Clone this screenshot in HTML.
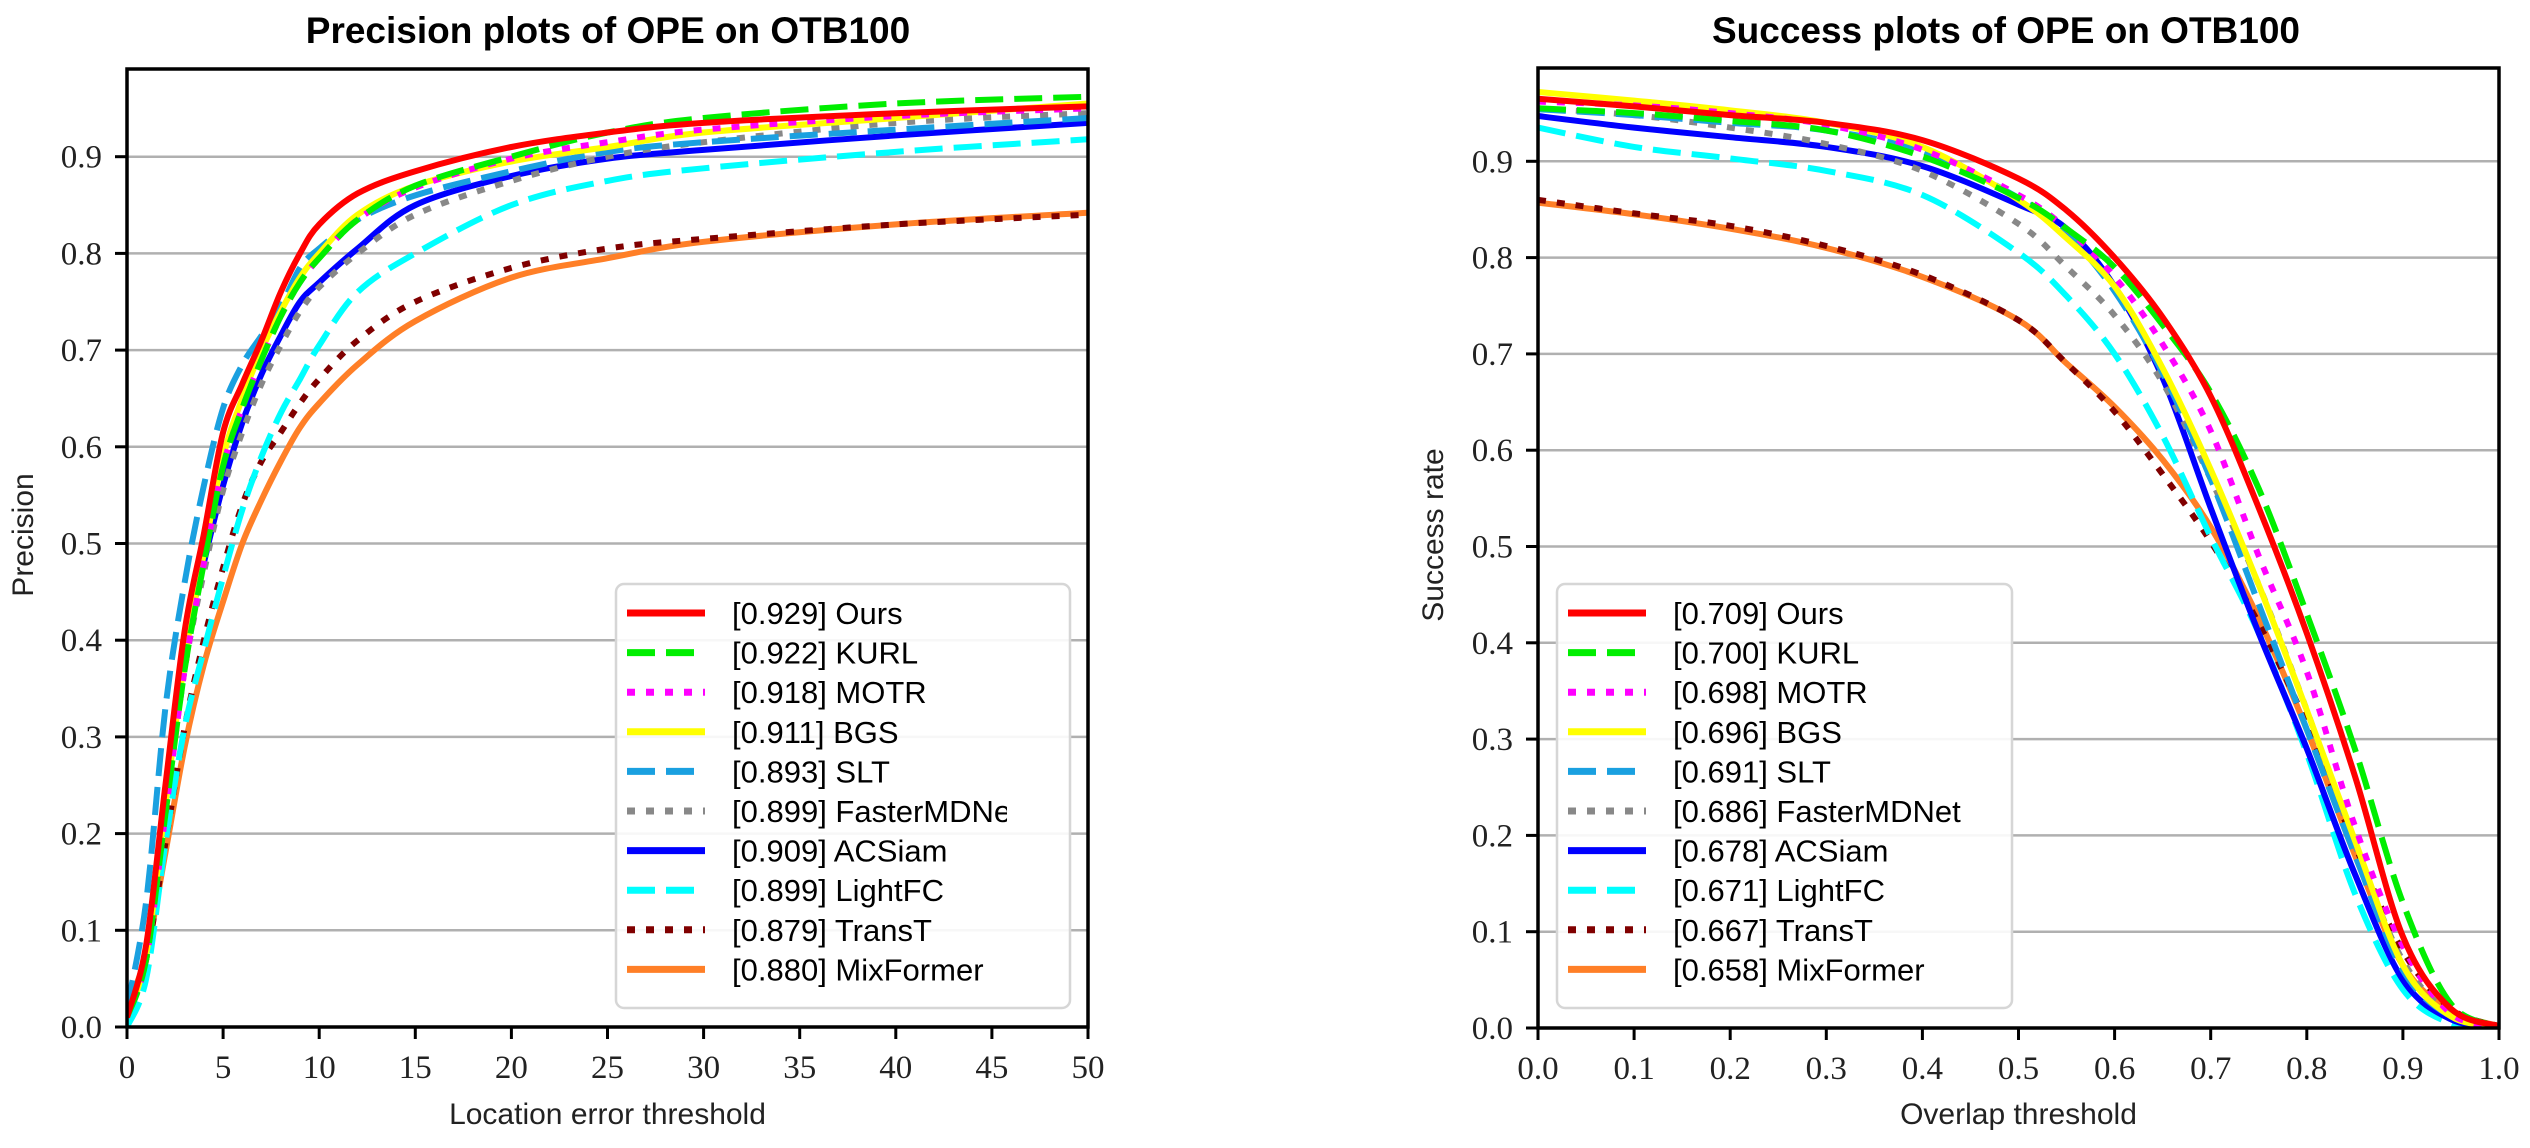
<!DOCTYPE html>
<html><head><meta charset="utf-8"><style>
html,body{margin:0;padding:0;background:#fff;width:2530px;height:1148px;overflow:hidden}
svg{display:block}
.tick{font-family:"Liberation Serif",serif;font-size:33px;fill:#222}
.ttl{font-family:"Liberation Sans",sans-serif;font-size:37px;font-weight:bold;fill:#000}
.lab{font-family:"Liberation Sans",sans-serif;font-size:30px;fill:#222}
.leg{font-family:"Liberation Sans",sans-serif;font-size:31px;fill:#000}
</style></head><body>
<svg id="fig" width="2530" height="1148" viewBox="0 0 2530 1148" xmlns="http://www.w3.org/2000/svg">
<defs><clipPath id="legclipL"><rect x="600" y="570" width="407" height="450"/></clipPath></defs>
</svg>
<script>
const names=["Ours","KURL","MOTR","BGS","SLT","FasterMDNet","ACSiam","LightFC","TransT","MixFormer"];
const precScores=["0.929","0.922","0.918","0.911","0.893","0.899","0.909","0.899","0.879","0.880"];
const succScores=["0.709","0.700","0.698","0.696","0.691","0.686","0.678","0.671","0.667","0.658"];
const colors=["#ff0000","#00ee00","#ff00ff","#ffff00","#1aa0e0","#888888","#0000ff","#00ffff","#800000","#ff7f27"];
const styles=["solid","dash","dot","solid","dash","dot","solid","dash","dot","solid"];
const precX=[0,1,2,3,4,5,6,7,8,9,10,12,15,20,25,30,40,50];
const precOurs=[0.01,0.085,0.25,0.41,0.51,0.615,0.665,0.71,0.76,0.80,0.83,0.862,0.885,0.91,0.925,0.935,0.945,0.952];
const precKURL=[0.01,0.07,0.22,0.37,0.48,0.58,0.64,0.69,0.735,0.77,0.795,0.835,0.87,0.90,0.925,0.94,0.955,0.962];
const precMOTR=[0.01,0.07,0.22,0.37,0.48,0.58,0.64,0.69,0.735,0.77,0.795,0.835,0.868,0.898,0.915,0.928,0.942,0.95];
const precBGS=[0.01,0.075,0.23,0.38,0.49,0.59,0.65,0.70,0.74,0.775,0.80,0.84,0.87,0.895,0.91,0.925,0.94,0.955];
const precSLT=[0.02,0.13,0.33,0.46,0.56,0.64,0.685,0.715,0.745,0.785,0.805,0.835,0.86,0.885,0.905,0.915,0.928,0.94];
const precFMD=[0.01,0.07,0.22,0.37,0.47,0.555,0.615,0.665,0.705,0.74,0.765,0.80,0.84,0.875,0.90,0.915,0.935,0.945];
const precACS=[0.01,0.08,0.24,0.39,0.48,0.56,0.625,0.675,0.715,0.75,0.77,0.805,0.85,0.88,0.898,0.907,0.922,0.935];
const precLFC=[0.0,0.05,0.19,0.31,0.39,0.465,0.535,0.59,0.635,0.67,0.705,0.76,0.80,0.85,0.875,0.888,0.905,0.918];
const precTT=[0.01,0.07,0.19,0.31,0.40,0.475,0.54,0.585,0.615,0.645,0.67,0.71,0.75,0.785,0.805,0.815,0.83,0.84];
const precMF=[0.02,0.075,0.18,0.29,0.375,0.44,0.50,0.545,0.585,0.62,0.645,0.685,0.73,0.775,0.795,0.812,0.83,0.842];
const succX=[0,0.1,0.2,0.3,0.4,0.5,0.55,0.6,0.65,0.7,0.75,0.8,0.85,0.9,0.95,1.0];
const succOurs=[0.965,0.957,0.948,0.940,0.922,0.882,0.849,0.80,0.738,0.656,0.54,0.41,0.262,0.095,0.02,0.002];
const succKURL=[0.955,0.950,0.942,0.932,0.905,0.862,0.83,0.79,0.73,0.66,0.56,0.43,0.29,0.13,0.025,0.002];
const succMOTR=[0.962,0.958,0.95,0.938,0.912,0.865,0.83,0.78,0.71,0.62,0.49,0.37,0.21,0.085,0.015,0.002];
const succBGS=[0.972,0.963,0.953,0.94,0.915,0.86,0.82,0.77,0.685,0.58,0.46,0.33,0.195,0.065,0.012,0.002];
const succSLT=[0.954,0.948,0.94,0.932,0.91,0.862,0.825,0.765,0.68,0.57,0.44,0.31,0.18,0.06,0.012,0.002];
const succFMD=[0.955,0.948,0.935,0.918,0.89,0.835,0.79,0.74,0.67,0.57,0.46,0.33,0.19,0.07,0.015,0.002];
const succACS=[0.947,0.935,0.925,0.915,0.895,0.855,0.83,0.77,0.675,0.54,0.41,0.29,0.16,0.05,0.009,0.001];
const succLFC=[0.935,0.915,0.903,0.89,0.865,0.805,0.76,0.70,0.615,0.51,0.41,0.285,0.14,0.04,0.005,0.001];
const succTT=[0.86,0.846,0.833,0.812,0.782,0.735,0.69,0.64,0.575,0.505,0.42,0.315,0.19,0.08,0.02,0.002];
const succMF=[0.857,0.845,0.83,0.81,0.78,0.735,0.69,0.645,0.59,0.52,0.425,0.31,0.18,0.065,0.018,0.002];
const precSeries=[precOurs,precKURL,precMOTR,precBGS,precSLT,precFMD,precACS,precLFC,precTT,precMF];
const succSeries=[succOurs,succKURL,succMOTR,succBGS,succSLT,succFMD,succACS,succLFC,succTT,succMF];
const precTicks=[0,5,10,15,20,25,30,35,40,45,50];
const succTicks=[0,0.1,0.2,0.3,0.4,0.5,0.6,0.7,0.8,0.9,1.0];
const yTicks=[0,0.1,0.2,0.3,0.4,0.5,0.6,0.7,0.8,0.9];

const NS="http://www.w3.org/2000/svg";
const svg=document.getElementById('fig');
function mk(tag,attrs,parent){const e=document.createElementNS(NS,tag);for(const k in attrs)e.setAttribute(k,attrs[k]);(parent||svg).appendChild(e);return e;}
function dashFor(s){return s==="dash"?"28 11":(s==="dot"?"8 11":"none");}
function pathFrom(pts){let d="M"+pts[0][0].toFixed(1)+","+pts[0][1].toFixed(1);
 for(let i=0;i<pts.length-1;i++){const p0=pts[Math.max(0,i-1)],p1=pts[i],p2=pts[i+1],p3=pts[Math.min(pts.length-1,i+2)];
 const c1=[p1[0]+(p2[0]-p0[0])/6,p1[1]+(p2[1]-p0[1])/6],c2=[p2[0]-(p3[0]-p1[0])/6,p2[1]-(p3[1]-p1[1])/6];
 d+=" C"+c1[0].toFixed(1)+","+c1[1].toFixed(1)+" "+c2[0].toFixed(1)+","+c2[1].toFixed(1)+" "+p2[0].toFixed(1)+","+p2[1].toFixed(1);}
 return d;}

function panel(cfg){
 const g=mk('g',{});
 
 
 const X=v=>cfg.x0+(v-cfg.xmin)/(cfg.xmax-cfg.xmin)*(cfg.x1-cfg.x0);
 const Y=v=>cfg.y0-v*cfg.ystep*10;
 yTicks.forEach(t=>{ if(t>0){const l=mk('line',{x1:cfg.x0,x2:cfg.x1,y1:Y(t),y2:Y(t),stroke:'#b0b0b0','stroke-width':2.5},g);
  
  }
  const tk=mk('line',{x1:cfg.x0-12,x2:cfg.x0,y1:Y(t),y2:Y(t),stroke:'#000','stroke-width':3},g);
  
  
  const tx=mk('text',{x:cfg.x0-25,y:Y(t)+11,'text-anchor':'end',class:'tick'},g);tx.textContent=t.toFixed(1);
  
  
 });
 cfg.xticks.forEach(t=>{
  const tk=mk('line',{x1:X(t),x2:X(t),y1:cfg.y0,y2:cfg.y0+12,stroke:'#000','stroke-width':3},g);
  
  
  const tx=mk('text',{x:X(t),y:cfg.y0+51,'text-anchor':'middle',class:'tick'},g);tx.textContent=cfg.fmt(t);
  
  
 });
 const cl=mk('clipPath',{id:cfg.id+'clip'},g);mk('rect',{x:cfg.x0,y:cfg.top,width:cfg.x1-cfg.x0,height:cfg.y0-cfg.top},cl);
 const lines=mk('g',{'clip-path':'url(#'+cfg.id+'clip)'},g);
 for(let i=names.length-1;i>=0;i--){
  const pts=cfg.xs.map((x,j)=>[X(x),Y(cfg.series[i][j])]);
  const p=mk('path',{d:pathFrom(pts),fill:'none',stroke:colors[i],'stroke-width':6,'stroke-dasharray':dashFor(styles[i]),'stroke-linejoin':'round'},lines);
  
  
 }
 const fr=mk('rect',{x:cfg.x0,y:cfg.top,width:cfg.x1-cfg.x0,height:cfg.y0-cfg.top,fill:'none',stroke:'#000','stroke-width':3.5},g);
 
 
 const tt=mk('text',{x:cfg.tx,y:43,'text-anchor':'middle',class:'ttl'},g);tt.textContent=cfg.title;
 
 
 const xl=mk('text',{x:(cfg.x0+cfg.x1)/2,y:1124,'text-anchor':'middle',class:'lab'},g);xl.textContent=cfg.xlabel;
 
 
 const yl=mk('text',{x:0,y:0,'text-anchor':'middle',class:'lab',transform:'translate('+cfg.ylx+',535) rotate(-90)'},g);yl.textContent=cfg.ylabel;
 
 
 const lg=mk('g',{},g);
 
 
 mk('rect',{x:cfg.lx,y:584,width:cfg.lw,height:424,rx:8,fill:'#fff','fill-opacity':0.9,stroke:'#d6d6d6','stroke-width':2.5},lg);
 const tg=mk('g',cfg.clip?{'clip-path':'url(#'+cfg.clip+')'}:{},lg);
 names.forEach((n,i)=>{
  const yy=613+i*39.6;
  const ln=mk('line',{x1:cfg.lx+11,x2:cfg.lx+89,y1:yy,y2:yy,stroke:colors[i],'stroke-width':7,'stroke-dasharray':dashFor(styles[i])},lg);
  
  
  const t=mk('text',{x:cfg.lx+116,y:yy+11,class:'leg'},tg);t.textContent='['+cfg.scores[i]+'] '+n;
  
  
 });
}
panel({id:'prec',x0:127,x1:1088,xmin:0,xmax:50,y0:1027,ystep:96.7,top:69,xs:precX,series:precSeries,xticks:precTicks,fmt:t=>String(t),
 title:'Precision plots of OPE on OTB100',tx:608,xlabel:'Location error threshold',ylabel:'Precision',ylx:33,lx:616,lw:454,scores:precScores,clip:'legclipL'});
panel({id:'succ',x0:1538,x1:2499,xmin:0,xmax:1,y0:1028,ystep:96.3,top:68,xs:succX,series:succSeries,xticks:succTicks,fmt:t=>t.toFixed(1),
 title:'Success plots of OPE on OTB100',tx:2006,xlabel:'Overlap threshold',ylabel:'Success rate',ylx:1443,lx:1557,lw:455,scores:succScores,clip:null});
</script>
</body></html>
